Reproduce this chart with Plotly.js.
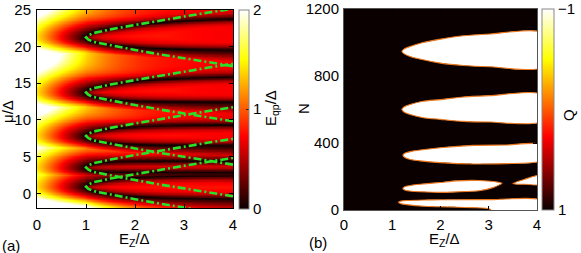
<!DOCTYPE html>
<html>
<head>
<meta charset="utf-8">
<script src="https://cdn.plot.ly/plotly-3.0.1.min.js"></script>
<style>html,body{margin:0;padding:0;background:#fff;}#plot{width:581px;height:253px;}</style>
</head>
<body>
<div id="plot"></div>
<script>
// ---------- tick labels ----------
const ezTicks = [0, 1, 2, 3, 4];
const muTicks = [0, 5, 10, 15, 20, 25];
const nTicks = [0, 400, 800, 1200];
const gapTicks = [0, 1, 2];

// ---------- panel (a): values ----------
// subband gap-closing tips (mu/Delta at E_Z ~ Delta)
const subbandMu = [0.9, 3.5, 7.8, 13.7, 21.2];
// offset of the upper / lower dark (gap ~ 0) edge from the tip, at E_Z = 4 Delta
const darkEdgeUp = [1.5, 0.9, 1.5, 2.1, 2.5];
const darkEdgeLo = [1.6, 0.6, 1.3, 1.3, 1.7];
// quasiparticle gap at mu = tip, E_Z = 0, and the gap level inside the lenses
const gapAtZeroField = 1.45;
const lensGap = 0.8;

// green dash-dot topological boundaries
const ezGreen = [1.0, 1.05, 1.15, 1.3, 1.5, 2.0, 2.5, 3.0, 3.5, 4.0];
const greenUp0 = [0.9, 1.2, 1.5, 1.7, 2.0, 2.6, 3.2, 3.7, 4.3, 4.8];
const greenLo0 = [0.9, 0.6, 0.3, 0.1, -0.2, -0.8, -1.4, -1.9, -2.5, -3.0];
const greenUp1 = [3.5, 3.8, 4.1, 4.3, 4.6, 5.2, 5.8, 6.3, 6.9, 7.4];
const greenLo1 = [3.5, 3.2, 2.9, 2.7, 2.4, 1.8, 1.2, 0.7, 0.1, -0.4];
const greenUp2 = [7.8, 8.1, 8.4, 8.6, 8.9, 9.5, 10.1, 10.6, 11.2, 11.7];
const greenLo2 = [7.8, 7.5, 7.2, 7.0, 6.7, 6.1, 5.5, 5.0, 4.4, 3.9];
const greenUp3 = [13.7, 14.0, 14.3, 14.5, 14.8, 15.4, 16.0, 16.5, 17.1, 17.6];
const greenLo3 = [13.7, 13.4, 13.1, 12.9, 12.6, 12.0, 11.4, 10.9, 10.3, 9.8];
const greenUp4 = [21.2, 21.5, 21.8, 22.0, 22.3, 22.9, 23.5, 24.0, 24.6, 25.1];
const greenLo4 = [21.2, 20.9, 20.6, 20.4, 20.1, 19.5, 18.9, 18.4, 17.8, 17.3];

// ---------- panel (b): Q = -1 (white) lobes on Q = +1 background ----------
const qBackground = 1;
const qLobe = -1;
const lobe1X = [1.2, 1.25, 1.37, 1.64, 2.0, 2.47, 3.03, 4.05];
const lobe1Up = [946, 962, 976, 1000, 1020, 1040, 1051, 1062];
const lobe1Lo = [946, 932, 917, 897, 877, 863, 855, 848];
const lobe2X = [1.2, 1.25, 1.37, 1.64, 2.0, 2.47, 3.03, 4.05];
const lobe2Up = [600, 616, 630, 649, 659, 675, 683, 693];
const lobe2Lo = [600, 584, 570, 551, 541, 529, 525, 525];
const lobe3X = [1.22, 1.27, 1.4, 1.58, 1.99, 2.68, 3.37, 4.05];
const lobe3Up = [327, 340, 350, 358, 372, 386, 388, 392];
const lobe3Lo = [327, 312, 300, 293, 283, 275, 277, 292];
const lobe4X = [1.22, 1.27, 1.4, 1.58, 1.99, 2.33, 2.8, 3.1, 3.27];
const lobe4Up = [129, 140, 148, 154, 164, 174, 176, 170, 160];
const lobe4Lo = [129, 118, 112, 109, 105, 108, 115, 135, 158];
const lobe4bX = [3.5, 3.6, 3.75, 4.05];
const lobe4bUp = [157, 170, 184, 206];
const lobe4bLo = [157, 154, 154, 152];
const lobe5X = [1.13, 1.18, 1.3, 1.66, 1.99, 2.68, 3.03, 3.1, 4.05];
const lobe5Up = [46, 53, 57, 60, 61, 62, 62, 62, 61];
const lobe5Lo = [46, 38, 32, 22, 19, 14, 5, -20, -20];

// ---------- build the gap table of panel (a) ----------
const U4 = Math.sqrt(15);
const cA0 = 0.6, cB0 = 1.15;            // gap slope above / below a tip
const sxA = gapAtZeroField / cA0, sxB = gapAtZeroField / cB0;
function softcap(g, c) { return g / Math.pow(1 + Math.pow(g / c, 4), 1 / 4); }
function edgeUp(n, x) { const u = x > 1 ? Math.sqrt(x * x - 1) : 0; const U = darkEdgeUp[n]; return U * Math.tanh(u / U) / Math.tanh(U4 / U); }
function edgeLo(n, x) { const u = x > 1 ? Math.sqrt(x * x - 1) : 0; const L = darkEdgeLo[n]; return L * Math.tanh(u / L) / Math.tanh(U4 / L); }
const NS = 70, sX = [];
for (let k = 0; k <= NS; k++) sX.push(1 + 3 * Math.pow(k / NS, 2));
const sUp = subbandMu.map((m0, n) => sX.map(x => m0 + edgeUp(n, x)));
const sLo = subbandMu.map((m0, n) => sX.map(x => m0 - edgeLo(n, x)));
function dist(x, mu, ys, sx) {
  let b = 1e9;
  for (let k = 0; k <= NS; k++) {
    const dx = sx * (x - sX[k]), dy = mu - ys[k];
    const v = dx * dx + dy * dy;
    if (v < b) b = v;
  }
  return Math.sqrt(b);
}
function gapAt(ez, mu, eu, el) {
  let best = Infinity;
  const cap = 0.7 + 2.8 * Math.exp(-ez / 0.75);
  const cA = cA0 + 0.25 * Math.min(Math.max(ez - 1, 0), 1);
  const cB = cB0 / (1 + 0.5 * Math.max(ez - 1, 0));
  for (let n = 0; n < subbandMu.length; n++) {
    const d = mu - subbandMu[n];
    let g;
    if (d >= eu[n]) {
      g = softcap(cA * dist(ez, mu, sUp[n], sxA), cap);
    } else if (d <= -el[n]) {
      g = cB * dist(ez, mu, sLo[n], sxB);
    } else {
      const s = Math.min(eu[n] - d, d + el[n]);
      g = lensGap * Math.tanh(1.1 * s / lensGap);
    }
    if (g < best) best = g;
  }
  return best;
}
const gx = [], gy = [], gz = [];
for (let i = 0; i <= 200; i++) gx.push(i * 0.02);
for (let j = 0; j <= 340; j++) gy.push(-2 + j * 0.08);
const EU = gx.map(x => subbandMu.map((_, n) => edgeUp(n, x)));
const EL = gx.map(x => subbandMu.map((_, n) => edgeLo(n, x)));
for (let j = 0; j < gy.length; j++) {
  const row = [];
  for (let i = 0; i < gx.length; i++) row.push(gapAt(gx[i], gy[j], EU[i], EL[i]));
  gz.push(row);
}

// ---------- helpers ----------
const W = 581, H = 253;
const Xp = px => px / W;
const Yp = py => 1 - py / H;
const FONT = 'Liberation Sans, Arial, Helvetica, sans-serif';
const hot = [[0, 'rgb(11,0,0)'], [0.365, 'rgb(255,0,0)'], [0.75, 'rgb(255,255,0)'], [1, 'rgb(255,255,255)']];
const green = 'rgb(40,225,40)';
const FS = 15;
const axFont = {family: FONT, size: FS, color: '#000'};

const traces = [];
traces.push({
  type: 'heatmap', x: gx, y: gy, z: gz, zmin: 0, zmax: 2, colorscale: hot,
  xaxis: 'x', yaxis: 'y', hoverinfo: 'skip', zsmooth: false,
  colorbar: {
    x: Xp(239), xanchor: 'left', xpad: 0, y: Yp(9.5), yanchor: 'top', ypad: 0,
    len: (208 - 9.5) / H, lenmode: 'fraction', thickness: 10, thicknessmode: 'pixels',
    outlinewidth: 1, outlinecolor: '#888', tickvals: gapTicks, ticktext: gapTicks.map(String),
    ticks: 'inside', ticklen: 3, tickcolor: '#222', tickfont: axFont
  }
});
const greenSets = [[greenUp0, greenLo0], [greenUp1, greenLo1], [greenUp2, greenLo2], [greenUp3, greenLo3], [greenUp4, greenLo4]];
greenSets.forEach(([up, lo]) => {
  traces.push({
    type: 'scatter', mode: 'lines', xaxis: 'x', yaxis: 'y', hoverinfo: 'skip', showlegend: false,
    x: ezGreen.slice().reverse().concat(ezGreen), y: lo.slice().reverse().concat(up),
    line: {color: green, width: 2.6, dash: '8px,3px,2px,3px'}
  });
});

traces.push({
  type: 'heatmap', x: [0, 4], y: [0, 1200], z: [[-qBackground, -qBackground], [-qBackground, -qBackground]],
  zmin: -1, zmax: 1, colorscale: hot, xaxis: 'x2', yaxis: 'y2', hoverinfo: 'skip',
  colorbar: {
    x: Xp(542), xanchor: 'left', xpad: 0, y: Yp(9), yanchor: 'top', ypad: 0,
    len: (210 - 9) / H, lenmode: 'fraction', thickness: 12, thicknessmode: 'pixels',
    outlinewidth: 1, outlinecolor: '#888', tickvals: [-1, 1], ticktext: ['1', '\u22121'],
    ticks: '', tickfont: axFont
  }
});
const lobes = [[lobe1X, lobe1Up, lobe1Lo], [lobe2X, lobe2Up, lobe2Lo], [lobe3X, lobe3Up, lobe3Lo],
  [lobe4X, lobe4Up, lobe4Lo], [lobe4bX, lobe4bUp, lobe4bLo], [lobe5X, lobe5Up, lobe5Lo]];
const lobeColor = qLobe === -1 ? 'rgb(255,255,255)' : 'rgb(0,0,0)';
lobes.forEach(([lx, up, lo]) => {
  traces.push({
    type: 'scatter', mode: 'lines', xaxis: 'x2', yaxis: 'y2', hoverinfo: 'skip', showlegend: false,
    x: lx.concat(lx.slice().reverse()), y: up.concat(lo.slice().reverse()),
    fill: 'toself', fillcolor: lobeColor, line: {color: 'rgb(235,120,30)', width: 1.1, shape: 'spline', smoothing: 0.6}
  });
});

const baseAxis = {
  showgrid: false, zeroline: false, showline: true, linecolor: '#000', linewidth: 1,
  mirror: 'ticks', ticks: 'inside', ticklen: 4, tickcolor: '#000', tickfont: axFont
};
const ann = (text, px, py, extra) => Object.assign({
  text: text, x: Xp(px), y: Yp(py), xref: 'paper', yref: 'paper', showarrow: false,
  font: axFont, xanchor: 'center', yanchor: 'middle'
}, extra || {});
const layout = {
  width: W, height: H, margin: {l: 0, r: 0, t: 0, b: 0}, paper_bgcolor: '#fff', plot_bgcolor: '#fff',
  showlegend: false, font: axFont,
  xaxis: Object.assign({}, baseAxis, {domain: [Xp(37), Xp(233)], range: [0, 4], tickvals: ezTicks, anchor: 'y', ticklabelstandoff: 3}),
  yaxis: Object.assign({}, baseAxis, {domain: [Yp(208), Yp(9.5)], range: [-2, 25], tickvals: muTicks, anchor: 'x', ticklabelstandoff: 2}),
  xaxis2: Object.assign({}, baseAxis, {domain: [Xp(344), Xp(537)], range: [0, 4], tickvals: ezTicks, anchor: 'y2', linecolor: '#555', ticklabelstandoff: 1}),
  yaxis2: Object.assign({}, baseAxis, {domain: [Yp(210), Yp(9)], range: [0, 1200], tickvals: nTicks, anchor: 'x2', linecolor: '#555', ticklabelstandoff: 1}),
  annotations: [
    ann('E<sub>Z</sub>/Δ', 134, 239),
    ann('E<sub>Z</sub>/Δ', 444, 239),
    ann('(a)', 11, 245),
    ann('(b)', 318, 242),
    ann('μ/Δ', 7, 112, {textangle: -90}),
    ann('N', 303, 108, {textangle: -90}),
    ann('E<sub>qp</sub>/Δ', 271, 108, {textangle: -90}),
    ann('Q', 568, 115, {textangle: -90})
  ]
};
Plotly.newPlot('plot', traces, layout, {staticPlot: true, displayModeBar: false});
</script>
</body>
</html>
